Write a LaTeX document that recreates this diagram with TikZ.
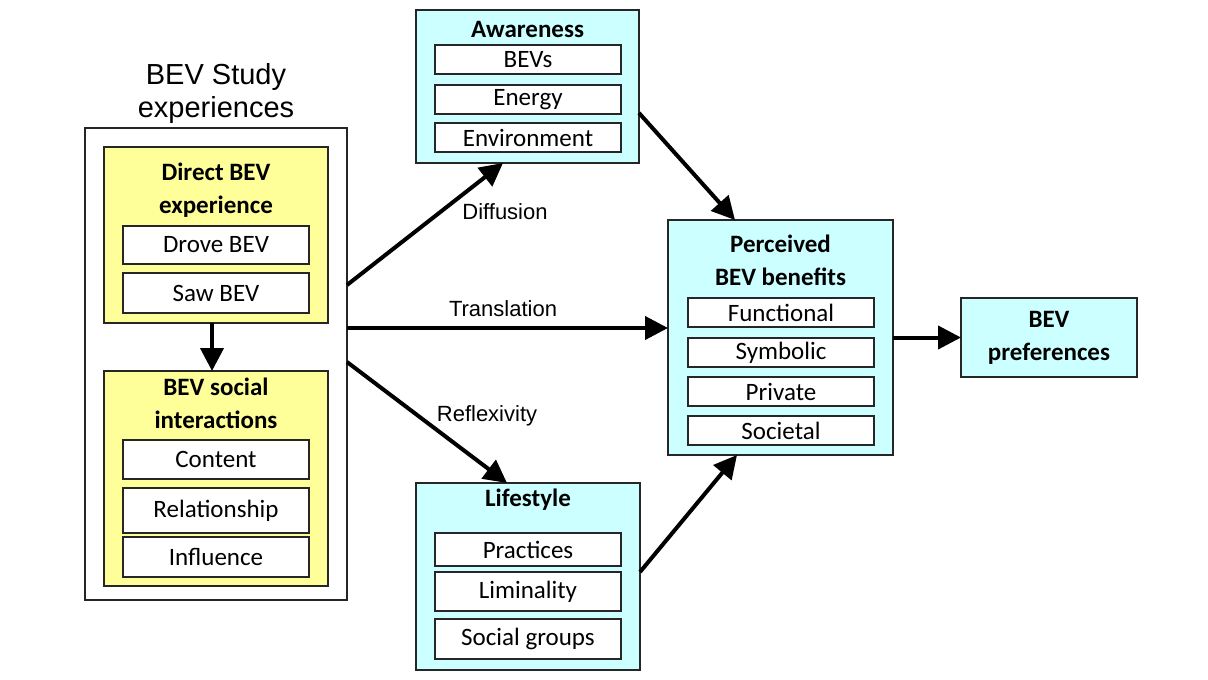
\documentclass[tikz,border=0pt]{standalone}
\usepackage{fontspec}
\setmainfont{Carlito}
\newfontfamily\arialfont{Liberation Sans}
\usetikzlibrary{arrows.meta}
\definecolor{bevcyan}{RGB}{204,255,255}
\definecolor{bevyellow}{RGB}{255,255,153}
\begin{document}
\begin{tikzpicture}[x=.5pt, y=-.5pt,
    group/.style={draw=black!85, line width=.8pt, inner sep=0pt, outer sep=0pt},
    head/.style={font=\fontsize{12.5}{16.5}\selectfont\bfseries, align=center},
    item/.style={draw=black!85, fill=white, line width=.8pt, minimum width=93pt,
      inner sep=0pt, outer sep=0pt, font=\fontsize{12.5}{15}\selectfont},
    link/.style={line width=2pt, -{Triangle[length=11.5pt, width=11.5pt]}},
    tag/.style={font=\arialfont\fontsize{11}{13}\selectfont}]
  \useasboundingbox (0,0) rectangle (1208,679);
  % study experiences
  \node[font=\arialfont\fontsize{14.5}{16.5}\selectfont, align=center] (studytitle) at (216,94) {BEV Study\\experiences};
  \node[group, minimum width=131pt, minimum height=236pt] (study) at (216,364) {};
  \node[group, fill=bevyellow, minimum width=112pt, minimum height=88pt] (direct) at (216,235) {};
  \node[head] (directtitle) at (216,190) {Direct BEV\\experience};
  \node[item, minimum height=19pt] (drove) at (216,245) {Drove BEV};
  \node[item, minimum height=20pt] (saw) at (216,293) {Saw BEV};
  \node[group, fill=bevyellow, minimum width=112pt, minimum height=107.5pt] (social) at (216,478.5) {};
  \node[head] (socialtitle) at (216,403) {BEV social\\interactions};
  \node[item, minimum height=19.5pt] (content) at (216,459.5) {Content};
  \node[item, minimum height=22.5pt] (relation) at (216,510.5) {Relationship};
  \node[item, minimum height=20pt] (influence) at (216,557) {Influence};
  % awareness
  \node[group, fill=bevcyan, minimum width=111.5pt, minimum height=76.5pt] (aware) at (527.5,86.5) {};
  \node[head] (awaretitle) at (527.5,29) {Awareness};
  \node[item, minimum height=14.5pt] (bevs) at (528,59.5) {BEVs};
  \node[item, minimum height=14.5pt] (energy) at (528,99.5) {Energy};
  \node[item, minimum height=14.5pt] (environment) at (528,137.5) {Environment};
  % lifestyle
  \node[group, fill=bevcyan, minimum width=112pt, minimum height=93.5pt] (life) at (528,576.5) {};
  \node[head] (lifetitle) at (528,500) {Lifestyle};
  \node[item, minimum height=16.5pt] (practices) at (528,549.5) {Practices};
  \node[item, minimum height=19.5pt] (liminality) at (528,591.5) {Liminality};
  \node[item, minimum height=20pt] (groups) at (528,639) {Social groups};
  % perceived benefits
  \node[group, fill=bevcyan, minimum width=112.5pt, minimum height=117.5pt] (benefit) at (780.5,337.5) {};
  \node[head] (benefittitle) at (780.5,260) {Perceived\\BEV benefits};
  \node[item, minimum height=14.5pt] (functional) at (781,312.5) {Functional};
  \node[item, minimum height=14.5pt] (symbolic) at (781,352.5) {Symbolic};
  \node[item, minimum height=14.5pt] (private) at (781,391.5) {Private};
  \node[item, minimum height=14.5pt] (societal) at (781,430.5) {Societal};
  % preferences
  \node[group, fill=bevcyan, minimum width=88pt, minimum height=39.5pt, head] (pref) at (1049,337.5) {BEV\\preferences};
  % labels
  \node[tag] (diffusion) at (505,212) {Diffusion};
  \node[tag] (translation) at (503,309) {Translation};
  \node[tag] (reflexivity) at (487,416) {Reflexivity};
  % lines
  \draw[link] ([xshift=-2pt]direct.south) -- ([xshift=-2pt]social.north);
  \draw[link] ([yshift=39.5pt]study.east) -- ([xshift=-12.25pt]aware.south);
  \draw[link] ([yshift=18pt]study.east) -- ([yshift=4.75pt]benefit.west);
  \draw[link] ([yshift=1pt]study.east) -- ([xshift=-10.5pt]life.north);
  \draw[link] ([yshift=-13.25pt]aware.east) -- ([xshift=-22.75pt]benefit.north);
  \draw[link] ([yshift=2.25pt]life.east) -- ([xshift=-21.75pt]benefit.south);
  \draw[link] (benefit.east) -- (pref.west);
\end{tikzpicture}
\end{document}
